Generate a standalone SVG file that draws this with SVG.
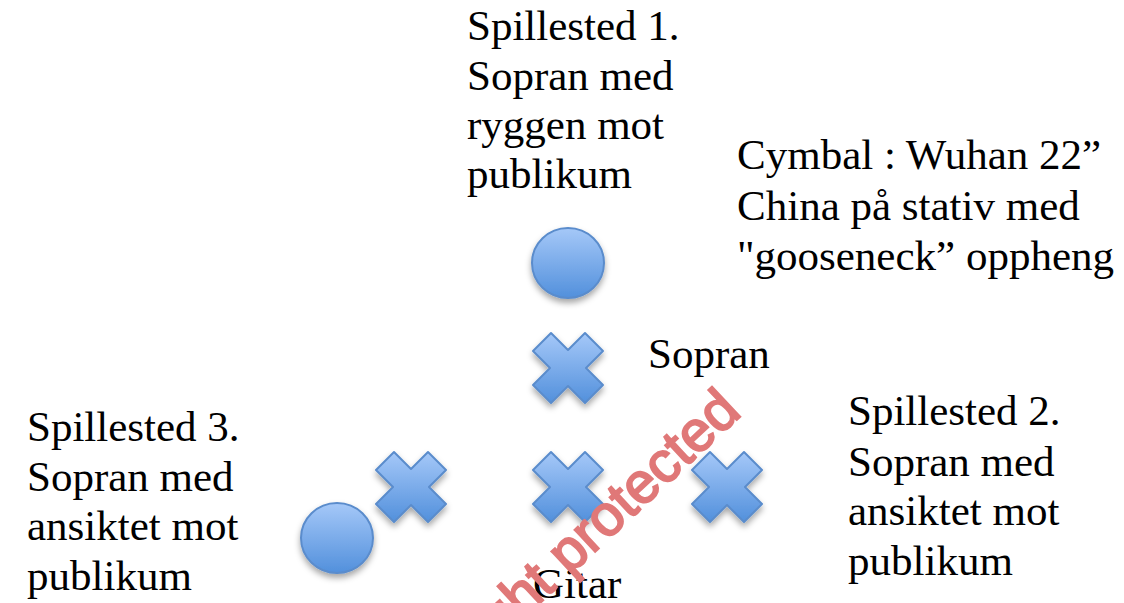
<svg xmlns="http://www.w3.org/2000/svg" width="1124" height="603" viewBox="0 0 1124 603">
<defs>
<linearGradient id="g" x1="0" y1="0" x2="0" y2="1">
<stop offset="0" stop-color="#a5c8f8"/>
<stop offset="1" stop-color="#5290dc"/>
</linearGradient>
<filter id="sh" x="-30%" y="-30%" width="160%" height="170%">
<feDropShadow dx="0" dy="4" stdDeviation="3" flood-color="#000" flood-opacity="0.35"/>
</filter>
<polygon id="xs" points="0,-18 17,-35 35,-17 18,0 35,17 17,35 0,18 -17,35 -35,17 -18,0 -35,-17 -17,-35"/>
</defs>
<style>
.t{font-family:"Liberation Serif","Times New Roman",serif;font-size:43px;fill:#000}
.s{fill:url(#g);stroke:#5a8ccc;stroke-width:2;stroke-linejoin:round;filter:url(#sh)}
.wm{font-family:"Liberation Sans",Arial,sans-serif;font-size:57px;fill:#e07878;stroke:#e07878;stroke-width:2}
</style>
<rect width="1124" height="603" fill="#fff"/>
<g id="label-spillested1">
<text class="t" x="467" y="40">Spillested 1.</text>
<text class="t" x="467" y="90">Sopran med</text>
<text class="t" x="467" y="139">ryggen mot</text>
<text class="t" x="467" y="188">publikum</text>
</g>
<g id="label-cymbal">
<text class="t" x="737" y="169">Cymbal : Wuhan 22”</text>
<text class="t" x="737" y="220">China på stativ med</text>
<text class="t" x="737" y="270">"gooseneck” oppheng</text>
</g>
<g id="label-spillested3">
<text class="t" x="27" y="441">Spillested 3.</text>
<text class="t" x="27" y="491">Sopran med</text>
<text class="t" x="27" y="540">ansiktet mot</text>
<text class="t" x="27" y="590">publikum</text>
</g>
<g id="label-spillested2">
<text class="t" x="848" y="425">Spillested 2.</text>
<text class="t" x="848" y="476">Sopran med</text>
<text class="t" x="848" y="525">ansiktet mot</text>
<text class="t" x="848" y="575">publikum</text>
</g>
<g id="cymbal"><ellipse class="s" cx="568" cy="263" rx="36" ry="35"/></g>
<g id="sopran"><use href="#xs" class="s" x="568" y="368"/><text class="t" x="648" y="368">Sopran</text></g>
<g id="x-left"><use href="#xs" class="s" x="411" y="487"/></g>
<g id="x-mid"><use href="#xs" class="s" x="568" y="487"/></g>
<g id="x-right"><use href="#xs" class="s" x="727" y="487"/></g>
<g id="circle-left"><ellipse class="s" cx="337" cy="538" rx="36" ry="35"/></g>
<g id="gitar"><text class="t" x="533" y="598">Gitar</text></g>
<g id="connectors"></g>
<text class="wm" text-anchor="end" transform="translate(743,414) rotate(-43)">Copyright protected</text>
</svg>
